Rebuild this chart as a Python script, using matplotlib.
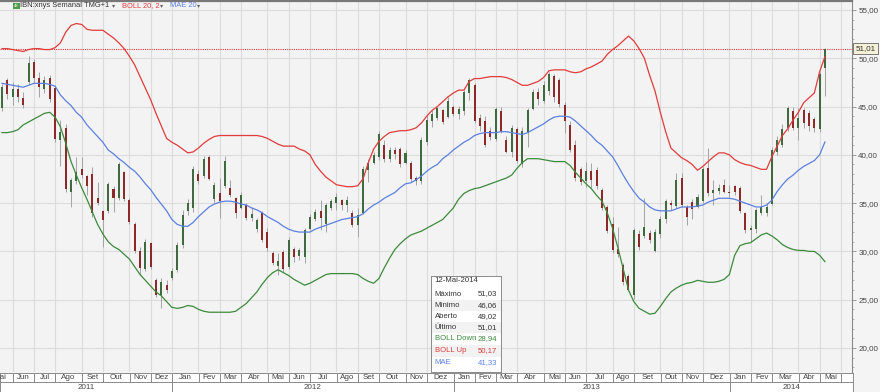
import numpy as np
import pandas as pd
import matplotlib
matplotlib.use('Agg')
import matplotlib.pyplot as plt
from matplotlib.patches import Rectangle
from matplotlib.transforms import blended_transform_factory

# weekly candles, IBN, 23-Mai-2011 .. 12-Mai-2014
first_week = '2011-05-23'

opens = [44.8, 47.8, 46.0, 46.8, 45.9, 47.5, 49.6, 48.0, 46.8, 48.0,
         46.9, 41.5, 42.8, 36.2, 37.3, 38.5, 37.8, 38.0, 35.5, 34.2,
         34.2, 36.5, 35.5, 38.2, 35.3, 32.8, 30.0, 28.2, 30.9, 27.0,
         25.5, 26.5, 27.2, 28.1, 30.7, 34.2, 34.5, 38.0, 37.8, 39.8,
         35.4, 36.0, 36.8, 36.6, 35.5, 34.5, 34.8, 33.5, 32.3, 34.0,
         32.0, 29.8, 28.5, 29.9, 28.4, 30.2, 29.5, 29.4, 32.3, 33.4,
         34.2, 32.8, 34.5, 35.0, 35.3, 34.8, 34.0, 32.7, 34.0, 38.4,
         39.2, 39.8, 41.0, 39.6, 40.5, 40.6, 39.2, 39.2, 37.6, 37.3,
         41.3, 43.5, 43.8, 44.6, 43.9, 45.0, 44.2, 44.5, 46.4, 47.2,
         43.8, 43.5, 42.5, 41.6, 44.5, 41.5, 40.3, 42.7, 39.0, 42.3,
         44.7, 46.5, 45.6, 46.6, 48.2, 47.8, 45.2, 43.1, 41.0, 38.5,
         37.3, 38.3, 38.4, 36.4, 34.6, 32.8, 30.2, 28.6, 27.5, 25.5,
         31.8, 31.6, 31.9, 30.0, 31.8, 33.4, 35.0, 34.7, 37.6, 34.6,
         35.1, 34.6, 35.2, 38.6, 36.0, 36.3, 36.9, 36.2, 36.8, 36.6,
         34.0, 32.2, 32.3, 34.0, 34.0, 34.9, 40.3, 41.0, 42.8, 44.5,
         42.8, 44.6, 44.3, 43.7, 42.7, 49.02]
highs = [47.3, 48.0, 47.5, 47.3, 46.5, 50.2, 49.9, 48.6, 48.2, 48.3,
         47.2, 43.6, 43.2, 37.6, 39.8, 39.8, 37.9, 38.7, 37.2, 34.3,
         37.2, 36.8, 39.3, 38.3, 35.5, 33.0, 30.5, 31.3, 31.0, 27.2,
         27.2, 27.0, 28.3, 31.0, 34.3, 35.4, 38.8, 38.4, 39.9, 40.0,
         37.2, 37.6, 39.9, 37.4, 35.6, 36.2, 35.0, 34.6, 33.5, 34.2,
         32.4, 30.0, 29.8, 30.1, 31.5, 30.5, 30.4, 32.4, 33.9, 34.4,
         35.3, 35.0, 35.4, 36.0, 35.4, 35.7, 34.3, 34.5, 38.8, 39.6,
         40.3, 42.5, 41.5, 40.8, 40.8, 40.8, 40.5, 39.4, 37.8, 41.8,
         44.1, 44.6, 45.0, 44.7, 46.0, 45.2, 45.1, 46.7, 48.0, 47.4,
         44.2, 44.0, 42.9, 45.0, 45.0, 42.0, 43.1, 42.9, 42.9, 44.9,
         46.8, 46.9, 47.6, 48.6, 48.4, 48.0, 45.5, 43.5, 41.5, 38.7,
         39.3, 39.2, 38.7, 36.6, 34.8, 33.6, 32.5, 28.8, 27.7, 32.4,
         32.2, 35.5, 32.2, 32.3, 33.7, 35.4, 35.3, 38.1, 38.1, 34.8,
         35.4, 35.9, 38.7, 40.7, 37.4, 37.0, 37.5, 36.9, 36.9, 36.8,
         34.1, 32.7, 34.5, 35.8, 35.0, 40.8, 42.0, 43.2, 45.1, 45.0,
         44.9, 44.8, 44.6, 43.9, 48.6, 51.03]
lows = [44.5, 45.8, 45.2, 45.5, 44.8, 47.3, 47.4, 46.0, 46.4, 45.5,
        41.3, 38.8, 36.2, 34.6, 37.0, 37.6, 35.8, 33.6, 34.8, 30.5,
        34.0, 34.1, 35.3, 35.2, 32.8, 29.8, 27.6, 28.0, 28.2, 25.3,
        24.1, 25.7, 27.0, 27.9, 30.4, 33.8, 34.1, 37.0, 37.6, 37.4,
        35.0, 33.5, 36.6, 35.6, 33.5, 34.4, 33.3, 33.1, 32.0, 31.0,
        30.0, 28.6, 27.6, 27.9, 28.2, 28.9, 29.1, 28.8, 32.2, 33.1,
        32.2, 32.0, 34.3, 34.3, 34.3, 34.1, 32.5, 31.5, 33.9, 37.2,
        39.0, 39.5, 39.3, 39.3, 39.6, 38.7, 39.1, 37.2, 36.9, 37.0,
        41.0, 42.9, 43.6, 43.2, 43.8, 44.0, 43.7, 44.1, 45.7, 43.3,
        42.5, 40.8, 41.5, 41.4, 42.3, 40.2, 39.8, 39.2, 38.7, 40.8,
        44.6, 45.2, 45.4, 46.2, 45.5, 45.0, 42.3, 40.3, 37.3, 36.9,
        36.7, 36.6, 36.5, 34.3, 31.9, 29.8, 29.4, 26.5, 25.9, 25.1,
        30.1, 31.4, 30.9, 29.9, 31.4, 32.9, 34.3, 34.5, 34.6, 32.7,
        33.4, 34.5, 35.0, 35.7, 34.8, 35.9, 36.0, 35.6, 35.8, 34.0,
        31.9, 31.0, 31.9, 33.8, 33.7, 34.8, 40.0, 40.8, 42.5, 42.6,
        41.5, 42.8, 42.5, 42.4, 42.4, 46.06]
closes = [47.0, 46.3, 46.8, 46.0, 45.2, 49.5, 48.0, 47.0, 47.8, 45.8,
          41.6, 42.4, 36.5, 37.4, 38.2, 37.9, 36.8, 34.0, 35.0, 33.2,
          37.0, 35.5, 39.0, 35.4, 33.0, 30.0, 28.3, 31.0, 28.4, 25.5,
          26.8, 26.0, 28.0, 30.7, 33.8, 35.0, 38.5, 37.3, 39.6, 37.5,
          36.9, 35.2, 39.4, 35.8, 34.0, 35.8, 33.5, 33.9, 33.2, 31.2,
          30.3, 28.8, 29.0, 28.2, 31.2, 29.4, 30.1, 32.2, 33.6, 34.1,
          33.5, 34.8, 35.2, 35.6, 34.8, 35.3, 32.7, 33.8, 38.5, 39.2,
          40.0, 42.2, 39.6, 40.5, 40.1, 39.0, 40.2, 37.5, 37.3, 41.5,
          43.6, 44.2, 44.8, 43.4, 45.6, 44.2, 44.7, 46.5, 47.8, 43.5,
          43.0, 41.0, 41.8, 44.7, 42.5, 40.3, 42.8, 39.4, 42.5, 44.6,
          46.5, 45.8, 47.2, 48.4, 46.0, 45.3, 43.5, 40.5, 37.6, 37.2,
          38.3, 37.4, 36.8, 34.5, 32.1, 30.1, 29.7, 26.8, 26.0, 32.2,
          30.5, 32.5, 31.2, 32.0, 33.4, 35.2, 34.8, 37.4, 34.8, 33.6,
          34.4, 35.6, 38.5, 36.0, 36.4, 36.6, 36.2, 36.0, 36.2, 34.2,
          32.2, 32.4, 34.3, 34.6, 34.6, 40.5, 41.5, 42.7, 44.9, 42.8,
          43.8, 43.3, 43.0, 42.8, 48.4, 51.01]

boll_up = [51.0, 51.0, 50.9, 50.8, 50.7, 50.9, 51.0, 51.0, 50.9, 50.9,
           51.1, 51.6, 52.7, 53.4, 53.6, 53.5, 53.0, 52.9, 52.9, 52.9,
           52.5, 52.1, 51.6, 51.0, 50.2, 49.3, 48.1, 46.9, 45.7, 44.3,
           43.0, 41.7, 41.3, 41.0, 40.6, 40.2, 40.3, 40.7, 41.2, 41.6,
           41.9, 42.0, 42.0, 42.0, 42.0, 42.0, 42.0, 42.0, 42.0, 41.9,
           41.7, 41.4, 41.1, 40.9, 40.9, 40.9, 40.6, 40.4, 40.0, 39.0,
           38.3, 37.7, 37.3, 36.9, 36.8, 36.7, 36.7, 36.8, 37.5, 39.2,
           40.6, 41.4, 41.9, 42.3, 42.4, 42.5, 42.5, 42.6, 42.8, 43.3,
           44.0, 44.6, 45.0, 45.5, 46.0, 46.4, 46.7, 46.7, 47.6, 47.9,
           47.9, 48.0, 48.1, 48.1, 48.1, 48.0, 47.8, 47.5, 47.2, 47.2,
           47.4, 47.6, 48.0, 48.7, 48.8, 48.8, 48.8, 48.6, 48.5, 48.6,
           48.9, 49.1, 49.4, 49.7, 50.4, 50.9, 51.3, 51.8, 52.3, 51.8,
           51.0, 50.0, 48.2, 46.6, 44.4, 42.4, 40.7, 40.2, 39.7, 39.4,
           39.0, 38.4, 38.8, 39.3, 39.8, 40.2, 40.2, 40.0, 39.5, 39.2,
           39.0, 38.9, 38.7, 38.5, 38.5, 39.8, 40.9, 42.0, 42.7, 43.6,
           44.4, 45.4, 45.9, 46.4, 48.6, 50.17]
mae = [47.4, 47.3, 47.2, 47.1, 47.0, 47.2, 47.4, 47.4, 47.4, 47.3,
       47.1, 46.2, 45.6, 45.1, 44.4, 43.9, 43.1, 42.5, 41.9, 41.3,
       40.5, 40.1, 39.6, 39.2, 38.7, 38.3, 37.7, 37.0, 36.4, 35.6,
       34.9, 34.2, 33.3, 32.8, 32.6, 32.6, 33.0, 33.6, 34.1, 34.6,
       34.9, 35.1, 35.2, 35.2, 35.1, 34.9, 34.8, 34.5, 34.3, 34.0,
       33.6, 33.3, 33.0, 32.6, 32.3, 32.1, 32.0, 32.0, 32.0, 32.3,
       32.5, 32.7, 32.9, 33.1, 33.3, 33.4, 33.5, 33.6, 33.9, 34.4,
       34.8, 35.1, 35.5, 35.8, 36.1, 36.6, 37.0, 37.1, 37.4, 37.8,
       38.3, 38.7, 39.0, 39.6, 40.0, 40.5, 40.9, 41.3, 41.6, 42.0,
       42.2, 42.3, 42.3, 42.3, 42.4, 42.4, 42.3, 42.2, 42.1, 42.3,
       42.6, 42.9, 43.2, 43.6, 43.9, 44.0, 44.0, 43.9, 43.5, 43.0,
       42.5, 42.0, 41.4, 41.0, 40.4, 39.8, 38.9, 37.9, 37.0, 36.2,
       35.5, 35.1, 34.6, 34.3, 34.2, 34.2, 34.2, 34.4, 34.6, 34.6,
       34.6, 34.7, 34.8, 35.1, 35.3, 35.5, 35.5, 35.5, 35.4, 35.2,
       35.0, 34.8, 34.6, 34.6, 34.8, 35.3, 36.2, 36.9, 37.5, 37.9,
       38.4, 38.8, 39.1, 39.4, 40.0, 41.33]
boll_down = [42.3, 42.3, 42.4, 42.6, 43.1, 43.4, 43.7, 44.0, 44.3, 44.4,
             43.9, 42.9, 41.2, 39.3, 37.9, 36.6, 35.4, 34.1, 32.8, 31.8,
             31.0, 30.5, 30.2, 29.7, 29.2, 28.4, 27.6, 27.0, 26.4, 25.8,
             25.4, 24.8, 24.2, 24.1, 24.2, 24.4, 24.3, 24.0, 23.8, 23.7,
             23.7, 23.7, 23.7, 23.7, 23.8, 24.2, 24.6, 25.2, 25.8, 26.6,
             27.3, 27.8, 28.1, 27.8, 27.5, 27.1, 26.8, 26.5, 26.7, 27.0,
             27.3, 27.6, 27.7, 27.7, 27.7, 27.7, 27.7, 27.6, 27.2, 26.9,
             26.7, 27.2, 28.3, 29.3, 30.2, 30.8, 31.3, 31.7, 31.9, 32.1,
             32.4, 32.7, 33.0, 33.3, 33.9, 34.5, 35.4, 36.0, 36.3, 36.5,
             36.6, 36.8, 37.0, 37.2, 37.4, 37.6, 37.9, 38.6, 39.2, 39.6,
             39.6, 39.6, 39.5, 39.4, 39.3, 39.3, 39.3, 38.9, 38.2, 37.6,
             37.0, 36.5, 35.8, 35.2, 34.0, 32.4, 30.4, 28.2, 26.0, 24.8,
             24.1, 23.8, 23.5, 23.6, 24.3, 25.1, 25.8, 26.2, 26.5, 26.7,
             26.8, 27.0, 26.9, 26.8, 26.8, 26.9, 27.1, 27.6, 29.6, 30.6,
             30.8, 30.9, 31.3, 31.7, 31.9, 31.6, 31.2, 30.7, 30.4, 30.2,
             30.1, 30.1, 30.0, 30.0, 29.6, 28.94]

month_names = ['Jan', 'Fev', 'Mar', 'Abr', 'Mai', 'Jun', 'Jul', 'Ago', 'Set', 'Out', 'Nov', 'Dez']

plt.rcParams['font.family'] = ['Liberation Sans', 'DejaVu Sans']

W, H = 880, 392
opens, highs, lows, closes = map(np.array, (opens, highs, lows, closes))
dates = pd.date_range(first_week, periods=len(closes), freq='W-MON')
x = np.arange(len(closes))
x_left, x_right = -0.38, 160.1


def px_box(l, t, r, b):
    return [l / W, 1 - b / H, (r - l) / W, (b - t) / H]


fig = plt.figure(figsize=(W / 100, H / 100), dpi=100)
fig.patch.set_facecolor('#f4f4f4')

ax = fig.add_axes(px_box(0, 1, 852, 372))
ax.set_facecolor('#f3f3f3')
ax.set_xlim(x_left, x_right)
ax.set_ylim(17.51, 55.93)

# month boundaries (Mondays), also before/after the data window
mondays = pd.date_range('2011-05-02', '2014-06-02', freq='W-MON')
mon_idx = (mondays - dates[0]).days // 7
starts = [(i, d) for i, d, p in zip(mon_idx[1:], mondays[1:], mondays[:-1]) if d.month != p.month]
starts = [(mon_idx[0], mondays[0])] + starts

for i, d in starts:
    if x_left < i < x_right:
        ax.axvline(i, color='#dcdcdc', lw=0.8, zorder=0)
for v in range(20, 56, 5):
    ax.axhline(v, color='#dcdcdc', lw=0.8, zorder=0)

# candles
up = closes >= opens
ax.vlines(x, lows, highs, color='#a3a3a3', lw=0.7, zorder=2)
body = np.maximum(np.abs(closes - opens), 0.1)
ax.bar(x, body, bottom=np.minimum(opens, closes), width=0.38,
       color=np.where(up, '#3f6a3f', '#8c2a2a'), zorder=3)

ax.plot(x, boll_up, color='#e23b3b', lw=0.9, zorder=4)
ax.plot(x, mae, color='#5b80e0', lw=0.9, zorder=4)
ax.plot(x, boll_down, color='#3c8a3c', lw=0.9, zorder=4)
ax.axhline(closes[-1], color='#e23b3b', lw=0.8, ls=(0, (1, 1)), zorder=1)

ax.yaxis.tick_right()
ax.set_yticks(range(20, 56, 5))
ax.set_yticklabels([f'{v:.2f}'.replace('.', ',') for v in range(20, 56, 5)])
ax.set_yticks(range(18, 56), minor=True)
ax.tick_params(axis='y', which='major', length=3, width=0.6, color='#888888',
               labelsize=5.8, labelcolor='#444444', pad=1.5)
ax.tick_params(axis='y', which='minor', length=1.5, width=0.5, color='#999999')
ax.set_xticks([])
for side in ['left', 'bottom']:
    ax.spines[side].set_visible(False)
ax.spines['right'].set_color('#8a8a8a')
ax.spines['right'].set_linewidth(0.8)
ax.spines['top'].set_color('#777777')
ax.spines['top'].set_linewidth(1.6)

tr = blended_transform_factory(ax.transAxes, ax.transData)
ax.text(1.004, closes[-1], f'{closes[-1]:.2f}'.replace('.', ','), transform=tr,
        ha='left', va='center', fontsize=5.8, color='#333333',
        bbox=dict(boxstyle='square,pad=0.25', fc='#f6f1d6', ec='#666666', lw=0.6))

# title line
ty = 1 - 5.6 / H
fig.patches.append(Rectangle((13 / W, 1 - 9 / H), 6.5 / W, 6.4 / H, transform=fig.transFigure,
                             fc='#4a9a4a', ec='none'))
fig.text(16.2 / W, ty, '48', fontsize=3.0, color='white', ha='center', va='center')
fig.text(20 / W, ty, 'IBN:xnys Semanal TMG+1', fontsize=5.4, color='#333333', va='center')
fig.text(111.5 / W, ty, '▾', fontsize=4.5, color='#666666', va='center')
fig.text(121.5 / W, ty, 'BOLL 20, 2', fontsize=5.4, color='#e23b3b', va='center')
fig.text(159.5 / W, ty, '▾', fontsize=4.5, color='#666666', va='center')
fig.text(169.5 / W, ty, 'MAE 20', fontsize=5.4, color='#5b80e0', va='center')
fig.text(197 / W, ty, '▾', fontsize=4.5, color='#666666', va='center')

# info box
ib = fig.add_axes(px_box(431, 276, 501, 372))
ib.set_xlim(0, 70)
ib.set_ylim(96, 0)
ib.set_xticks([])
ib.set_yticks([])
ib.set_facecolor('white')
for s in ib.spines.values():
    s.set_color('#8a8a8a')
    s.set_linewidth(0.7)
info = [('12-Mai-2014', '', '#333333'),
        ('Máximo', '51,03', '#333333'),
        ('Mínimo', '46,06', '#333333'),
        ('Aberto', '49,02', '#333333'),
        ('Último', '51,01', '#333333'),
        ('BOLL Down', '28,94', '#3c8a3c'),
        ('BOLL Up', '50,17', '#e23b3b'),
        ('MAE', '41,33', '#5b80e0')]
row_y = [5, 18, 29.7, 41, 51.7, 63, 75, 86.3]
for k, ((lab, val, col), yy) in enumerate(zip(info, row_y)):
    if k in (2, 4, 6):
        ib.add_patch(Rectangle((0.5, yy - 5.6), 69, 11.2, fc='#f2f2f2', ec='none'))
    ib.text(3.7, yy, lab, fontsize=5.6, color=col, va='center', ha='left')
    if val:
        ib.text(66, yy, val, fontsize=5.6, color=col, va='center', ha='right')

# month / year rows
ar = fig.add_axes(px_box(0, 372.5, 852.5, 392))
ar.set_xlim(x_left, x_right)
ar.set_ylim(0, 2)
ar.set_facecolor('white')
ar.set_xticks([])
ar.set_yticks([])
for s in ar.spines.values():
    s.set_color('#8a8a8a')
    s.set_linewidth(0.7)
ar.axhline(1, color='#8a8a8a', lw=0.7)
for (i0, d0), (i1, d1) in zip(starts[:-1], starts[1:]):
    ar.plot([i1, i1], [1, 2], color='#8a8a8a', lw=0.7)
    ar.text((i0 + i1) / 2, 1.5, month_names[d0.month - 1], fontsize=5.8, color='#444444',
            ha='center', va='center', clip_on=True)
year_starts = [i for i, d in starts if d.month == 1]
year_edges = [x_left] + year_starts + [x_right]
for k, (a, b) in enumerate(zip(year_edges[:-1], year_edges[1:])):
    if k > 0:
        ar.plot([a, a], [0, 1], color='#8a8a8a', lw=0.7)
    ar.text((a + b) / 2, 0.5, str(2011 + k), fontsize=5.8, color='#444444',
            ha='center', va='center')

plt.savefig('out.png', dpi=100)
plt.close()
